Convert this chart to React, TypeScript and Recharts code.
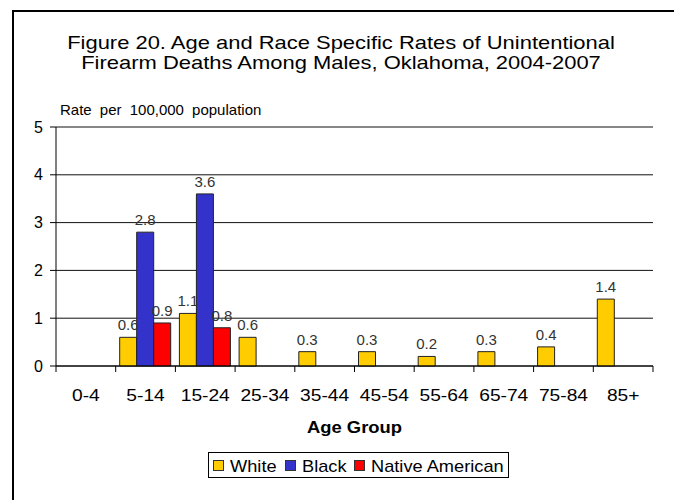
import { BarChart, Bar, XAxis, YAxis, CartesianGrid, LabelList } from 'recharts';

const AGE_GROUPS = ['0-4', '5-14', '15-24', '25-34', '35-44', '45-54', '55-64', '65-74', '75-84', '85+'];
const WHITE = [null, 0.6, 1.1, 0.6, 0.3, 0.3, 0.2, 0.3, 0.4, 1.4];
const BLACK = [null, 2.8, 3.6, null, null, null, null, null, null, null];
const NATIVE = [null, 0.9, 0.8, null, null, null, null, null, null, null];
const Y_TICKS = [0, 1, 2, 3, 4, 5];

const SERIES = [
  { key: 'white', name: 'White', color: '#FFCC00' },
  { key: 'black', name: 'Black', color: '#3333CC' },
  { key: 'native', name: 'Native American', color: '#FF0000' },
];

const data = AGE_GROUPS.map((age, i) => ({
  age,
  white: WHITE[i],
  black: BLACK[i],
  native: NATIVE[i],
}));

// chart geometry
const W = 674;
const H = 500;
const MARGIN = { top: 127, right: 21, left: 0, bottom: 104 };
const Y_AXIS_W = 56;
const X_AXIS_H = 30;
const PLOT_LEFT = MARGIN.left + Y_AXIS_W;
const PLOT_RIGHT = W - MARGIN.right;
const BAND = (PLOT_RIGHT - PLOT_LEFT) / AGE_GROUPS.length;

const FONT = "'Liberation Sans', Arial, sans-serif";

// the text is set a little wider than the font's natural width
function WideText({ x, y, sx = 1.2, anchor = 'start', children, ...rest }: any) {
  return (
    <text transform={`translate(${x},${y}) scale(${sx},1)`} textAnchor={anchor} fontFamily={FONT} fill="#000" {...rest}>
      {children}
    </text>
  );
}

// category ticks sit on the band edges, labels in the middle
function AgeTick(props: any) {
  const { x, y, payload, index } = props;
  const left = x - BAND / 2;
  return (
    <g>
      <line x1={left} x2={left} y1={y} y2={y + 6} stroke="#000" />
      {index === AGE_GROUPS.length - 1 && (
        <line x1={x + BAND / 2} x2={x + BAND / 2} y1={y} y2={y + 6} stroke="#000" />
      )}
      <WideText x={x} y={y + 35} anchor="middle" fontSize={16} sx={1.2}>
        {payload.value}
      </WideText>
    </g>
  );
}

export default function App() {
  return (
    <div style={{ position: 'fixed', left: 0, top: 0, width: W, height: H, background: '#fff' }}>
      <BarChart
        width={W}
        height={H}
        data={data}
        margin={MARGIN}
        barSize={17}
        barGap={0}
        style={{ position: 'absolute', left: 0, top: 0 }}
      >
        <CartesianGrid horizontal vertical={false} stroke="#111" strokeOpacity={1} />
        <XAxis
          dataKey="age"
          height={X_AXIS_H}
          interval={0}
          tickLine={false}
          tickSize={0}
          tickMargin={0}
          axisLine={{ stroke: '#000' }}
          tick={<AgeTick />}
        />
        <YAxis
          width={Y_AXIS_W}
          domain={[0, 5]}
          ticks={Y_TICKS}
          interval={0}
          tickSize={6}
          tickMargin={7}
          axisLine={{ stroke: '#000' }}
          tickLine={{ stroke: '#000' }}
          tick={{ fill: '#000', fontSize: 16, fontFamily: FONT }}
        />
        <YAxis
          yAxisId="frame"
          orientation="right"
          width={0}
          tick={false}
          tickLine={false}
          axisLine={{ stroke: '#000' }}
        />
        {SERIES.map((s) => (
          <Bar
            key={s.key}
            dataKey={s.key}
            name={s.name}
            fill={s.color}
            stroke="#222"
            strokeWidth={1}
            isAnimationActive={false}
          >
            <LabelList
              dataKey={s.key}
              position="top"
              offset={7}
              fill="#333"
              fontSize={15}
              fontFamily={FONT}
            />
          </Bar>
        ))}
      </BarChart>

      <svg
        width={W}
        height={H}
        style={{ position: 'absolute', left: 0, top: 0, pointerEvents: 'none' }}
      >
        <line x1={13} x2={13} y1={10} y2={H} stroke="#000" strokeWidth={2} />
        <line x1={12} x2={W} y1={11} y2={11} stroke="#000" strokeWidth={2} />

        <WideText x={341} y={49} anchor="middle" fontSize={18} sx={1.22}>
          Figure 20. Age and Race Specific Rates of Unintentional
        </WideText>
        <WideText x={341} y={69} anchor="middle" fontSize={18} sx={1.22}>
          Firearm Deaths Among Males, Oklahoma, 2004-2007
        </WideText>
        <WideText x={60} y={115} fontSize={15} sx={1} wordSpacing={4}>
          Rate per 100,000 population
        </WideText>
        <WideText x={(PLOT_LEFT + PLOT_RIGHT) / 2} y={433} anchor="middle" fontSize={16} fontWeight="bold" sx={1.15}>
          Age Group
        </WideText>

        <rect x={208.5} y={452.5} width={300} height={25} fill="#fff" stroke="#000" />
        {SERIES.map((s, i) => {
          const xs = [213, 285, 354][i];
          return (
            <g key={s.key}>
              <rect x={xs + 0.5} y={460.5} width={10} height={10} fill={s.color} stroke="#333" />
              <WideText x={xs + 17} y={471.5} fontSize={16} sx={1.14}>
                {s.name}
              </WideText>
            </g>
          );
        })}
      </svg>
    </div>
  );
}
